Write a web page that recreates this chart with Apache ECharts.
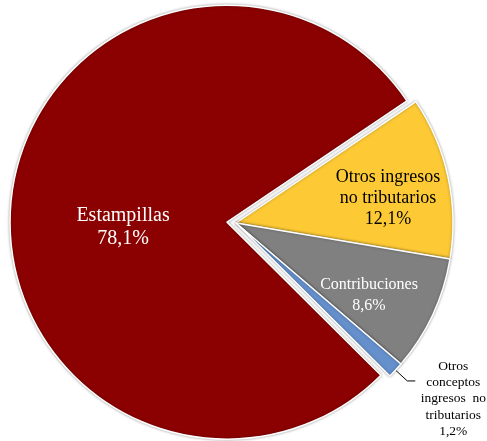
<!DOCTYPE html>
<html><head><meta charset="utf-8">
<script src="https://cdn.jsdelivr.net/npm/echarts@6/dist/echarts.min.js"></script>
<style>html,body{margin:0;padding:0;background:#fff}#c{width:487px;height:441px}</style>
</head><body><div id="c"></div>
<script>
const categories = ['Otros ingresos\nno tributarios', 'Contribuciones', 'Otros\nconceptos\ningresos  no\ntributarios', 'Estampillas'];
const values = [12.1, 8.6, 1.2, 78.1];
const colors = ['#FDCA35', '#808080', '#6590CC', '#8B0000'];

const fmt = v => v.toFixed(1).replace('.', ',') + '%';
const chart = echarts.init(document.getElementById('c'));
const data = categories.map((name, i) => {
  const d = { name, value: values[i], itemStyle: { color: colors[i] } };
  if (i === 0) d.label = { position: 'inside', color: '#000', fontSize: 18, lineHeight: 21, offset: [43, -1] };
  if (i === 1) d.label = { position: 'inside', color: '#fff', fontSize: 16, lineHeight: 21, offset: [32, 25] };
  if (i === 2) d.label = {
    position: 'outside', color: '#000', fontSize: 13.5, lineHeight: 16.3,
    padding: [36, 0, 0, 0],
    formatter: p => '{c|' + p.name.split('\n').concat([fmt(p.value)]).join('}\n{c|') + '}',
    rich: { c: { align: 'center', width: 66, fontSize: 13.5, lineHeight: 16.3, fontFamily: 'Liberation Serif', color: '#000' } }
  };
  if (i === 3) {
    d.selected = true;
    d.label = {
      position: 'inside', padding: [0, 0, 0, 14],
      formatter: p => '{s|}\n{a|' + p.name + '}\n{a|' + fmt(p.value) + '}',
      rich: {
        s: { lineHeight: 32, height: 32 },
        a: { fontFamily: 'Liberation Serif', color: '#fff', fontSize: 20, lineHeight: 23, align: 'center' }
      }
    };
  }
  return d;
});
chart.setOption({
  animation: false,
  series: [{
    type: 'pie',
    center: [236, 223],
    radius: [0, 217],
    startAngle: 34,
    clockwise: true,
    selectedMode: 'multiple',
    selectedOffset: 9,
    avoidLabelOverlap: false,
    itemStyle: { borderColor: '#fff', borderWidth: 1.5, shadowBlur: 3, shadowColor: 'rgba(0,0,0,0.35)' },
    emphasis: { disabled: true },
    label: {
      fontFamily: 'Liberation Serif',
      formatter: p => p.name + '\n' + fmt(p.value)
    },
    labelLine: { show: true, length: 16, length2: 8, lineStyle: { color: '#000', width: 1 } },
    data
  }]
});
</script></body></html>
